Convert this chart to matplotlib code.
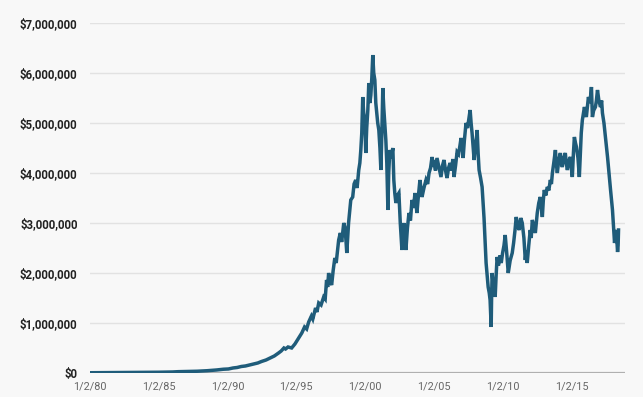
import matplotlib.pyplot as plt
from matplotlib.ticker import FuncFormatter

# Portfolio value (year as decimal, value in $ millions)
years = [
    1980.0, 1981.0, 1982.0, 1983.0, 1984.0, 1985.0, 1986.0, 1986.4, 1987.0,
    1987.8, 1988.5, 1989.2, 1989.7, 1990.06, 1990.4, 1990.7, 1991.0, 1991.3,
    1991.6, 1991.9, 1992.2, 1992.47, 1992.8, 1993.1, 1993.4, 1993.71, 1993.9,
    1994.1, 1994.22, 1994.4, 1994.66, 1994.9, 1995.17, 1995.4, 1995.6, 1995.75,
    1995.9, 1996.1, 1996.2, 1996.4, 1996.5, 1996.63, 1996.8, 1996.99, 1997.1,
    1997.2, 1997.28, 1997.35, 1997.45, 1997.57, 1997.68, 1997.8, 1997.9,
    1998.08, 1998.2, 1998.3, 1998.45, 1998.55, 1998.67, 1998.8, 1998.96,
    1999.1, 1999.2, 1999.32, 1999.42, 1999.54, 1999.62, 1999.69, 1999.76,
    1999.83, 1999.9, 1999.98, 2000.05, 2000.12, 2000.2, 2000.27, 2000.35,
    2000.42, 2000.49, 2000.56, 2000.63, 2000.71, 2000.78, 2000.85, 2000.92,
    2001.0, 2001.08, 2001.15, 2001.22, 2001.29, 2001.36, 2001.44, 2001.51,
    2001.58, 2001.66, 2001.72, 2001.8, 2001.9, 2002.02, 2002.09, 2002.16,
    2002.24, 2002.35, 2002.46, 2002.56, 2002.68, 2002.75, 2002.82, 2002.9,
    2002.97, 2003.08, 2003.19, 2003.3, 2003.41, 2003.52, 2003.63, 2003.7,
    2003.77, 2003.88, 2003.99, 2004.06, 2004.14, 2004.28, 2004.43, 2004.55,
    2004.65, 2004.76, 2004.87, 2004.94, 2005.01, 2005.12, 2005.23, 2005.38,
    2005.52, 2005.63, 2005.74, 2005.85, 2005.96, 2006.07, 2006.18, 2006.3,
    2006.38, 2006.47, 2006.58, 2006.69, 2006.8, 2006.9, 2006.98, 2007.06,
    2007.13, 2007.22, 2007.34, 2007.45, 2007.56, 2007.64, 2007.71, 2007.78,
    2007.86, 2007.93, 2008.02, 2008.1, 2008.15, 2008.22, 2008.29, 2008.4,
    2008.51, 2008.58, 2008.65, 2008.73, 2008.8, 2008.88, 2008.95, 2009.03,
    2009.09, 2009.13, 2009.17, 2009.2, 2009.24, 2009.32, 2009.4, 2009.46,
    2009.53, 2009.6, 2009.7, 2009.8, 2009.9, 2010.0, 2010.1, 2010.19, 2010.3,
    2010.41, 2010.55, 2010.7, 2010.8, 2010.9, 2010.99, 2011.1, 2011.21,
    2011.32, 2011.43, 2011.55, 2011.65, 2011.72, 2011.79, 2011.9, 2012.01,
    2012.08, 2012.16, 2012.27, 2012.38, 2012.45, 2012.52, 2012.63, 2012.74,
    2012.82, 2012.89, 2012.96, 2013.03, 2013.14, 2013.25, 2013.36, 2013.47,
    2013.55, 2013.62, 2013.72, 2013.84, 2013.9, 2013.98, 2014.08, 2014.2,
    2014.27, 2014.34, 2014.45, 2014.56, 2014.63, 2014.71, 2014.82, 2014.93,
    2015.0, 2015.07, 2015.15, 2015.22, 2015.3, 2015.37, 2015.48, 2015.58,
    2015.66, 2015.72, 2015.8, 2015.88, 2015.95, 2016.02, 2016.09, 2016.16,
    2016.24, 2016.35, 2016.46, 2016.5, 2016.53, 2016.62, 2016.75, 2016.82,
    2016.9, 2017.0, 2017.12, 2017.2, 2017.26, 2017.37, 2017.48, 2017.55,
    2017.63, 2017.74, 2017.85, 2017.92, 2017.99, 2018.06, 2018.14, 2018.2,
    2018.28, 2018.32, 2018.36, 2018.4, 2018.43,
]
values = [
    0.005, 0.007, 0.008, 0.010, 0.012, 0.015, 0.020, 0.026, 0.030,
    0.035, 0.045, 0.060, 0.075, 0.080, 0.100, 0.110, 0.130, 0.140,
    0.160, 0.180, 0.200, 0.230, 0.260, 0.300, 0.340, 0.400, 0.440,
    0.500, 0.480, 0.520, 0.500, 0.580, 0.700, 0.800, 0.920, 0.880,
    1.020, 1.140, 1.080, 1.300, 1.220, 1.400, 1.360, 1.520, 1.480,
    1.860, 1.720, 2.000, 1.840, 1.760, 2.050, 2.300, 2.200,
    2.660, 2.800, 2.620, 3.000, 2.900, 2.400, 3.000, 3.460,
    3.520, 3.780, 3.860, 3.700, 4.060, 4.200, 4.460, 4.800,
    5.520, 5.200, 5.060, 4.400, 4.900, 5.260, 5.800, 5.400,
    5.560, 5.900, 6.360, 6.000, 5.860, 5.400, 5.200, 5.000,
    4.860, 4.500, 4.060, 4.800, 5.700, 5.300, 4.960, 4.660,
    4.200, 3.260, 4.000, 4.460, 4.300, 4.500, 3.860, 3.600,
    3.400, 3.550, 3.600, 3.000, 2.460, 2.800, 3.000, 2.700,
    2.460, 2.900, 3.200, 3.050, 3.460, 3.300, 3.600, 3.400,
    3.200, 3.550, 3.860, 3.700, 3.520, 3.700, 3.860, 3.780,
    4.000, 4.100, 4.320, 4.180, 4.200, 4.050, 4.300, 4.100,
    3.920, 4.150, 4.260, 4.050, 3.900, 4.100, 4.200, 4.050,
    4.280, 3.920, 4.150, 4.420, 4.380, 4.550, 4.700, 4.550,
    4.300, 4.650, 5.000, 4.900, 5.100, 5.260, 5.000, 4.800,
    4.500, 4.260, 4.550, 4.700, 4.860, 4.400, 4.060, 3.900,
    3.720, 3.400, 3.100, 2.600, 2.200, 1.950, 1.720, 1.600,
    1.460, 1.200, 0.920, 1.500, 2.000, 1.750, 1.800, 1.520,
    1.950, 2.320, 2.150, 2.350, 2.200, 2.400, 2.550, 2.760, 2.400,
    2.000, 2.250, 2.400, 2.600, 2.850, 3.120, 2.950, 2.860,
    3.100, 3.000, 2.700, 2.260, 2.450, 2.200, 2.550, 2.860,
    2.700, 3.060, 2.950, 2.800, 3.000, 3.200, 3.400, 3.520,
    3.300, 3.120, 3.450, 3.660, 3.550, 3.720, 3.650, 3.860,
    3.780, 4.000, 4.200, 4.460, 4.200, 4.000, 4.250, 4.400,
    4.200, 4.120, 4.300, 4.400, 4.200, 4.060, 4.250, 4.320,
    4.100, 3.920, 4.400, 4.720, 4.600, 4.520, 4.300, 3.920,
    4.400, 4.800, 5.060, 5.200, 5.320, 5.200, 5.120, 5.300,
    5.520, 5.400, 5.720, 5.400, 5.120, 5.250, 5.320, 5.450,
    5.660, 5.450, 5.320, 5.450, 5.200, 5.000, 4.720, 4.550,
    4.320, 4.000, 3.660, 3.450, 3.260, 2.950, 2.600, 2.750,
    2.860, 2.600, 2.420, 2.550, 2.860,
]

tick_years = [1980, 1985, 1990, 1995, 2000, 2005, 2010, 2015]
tick_labels = ["1/2/80", "1/2/85", "1/2/90", "1/2/95",
               "1/2/00", "1/2/05", "1/2/10", "1/2/15"]

bg = "#f8f8f8"
fig = plt.figure(figsize=(6.43, 3.97), dpi=100, facecolor=bg)
ax = fig.add_axes([0.14, 0.0605, 0.832, 0.8815], facecolor=bg)

ax.plot(years, [v * 1e6 for v in values], color="#1f5c7a", lw=2.5,
        solid_joinstyle="miter", zorder=3)

ax.set_ylim(0, 7e6)
ax.set_xlim(1980, 2018.9)
ax.set_yticks([i * 1e6 for i in range(8)])
ax.yaxis.set_major_formatter(FuncFormatter(lambda v, p: "${:,.0f}".format(v)))
ax.set_xticks(tick_years)
ax.set_xticklabels(tick_labels)

for s in ax.spines.values():
    s.set_visible(False)
ax.grid(axis="y", color="#e2e2e2", lw=1.0, zorder=0)
ax.axhline(0, color="#b0b0b0", lw=1.6, zorder=2)

ax.tick_params(axis="both", length=0)
ax.tick_params(axis="y", pad=9)
ax.tick_params(axis="x", pad=6)
for lbl in ax.get_yticklabels():
    lbl.set_fontfamily("Roboto")
    lbl.set_fontweight("bold")
    lbl.set_fontsize(8.3)
    lbl.set_color("#222222")
for lbl in ax.get_xticklabels():
    lbl.set_fontfamily("Roboto")
    lbl.set_fontsize(7.8)
    lbl.set_color("#666666")

fig.savefig("out.png", dpi=100, facecolor=bg)
